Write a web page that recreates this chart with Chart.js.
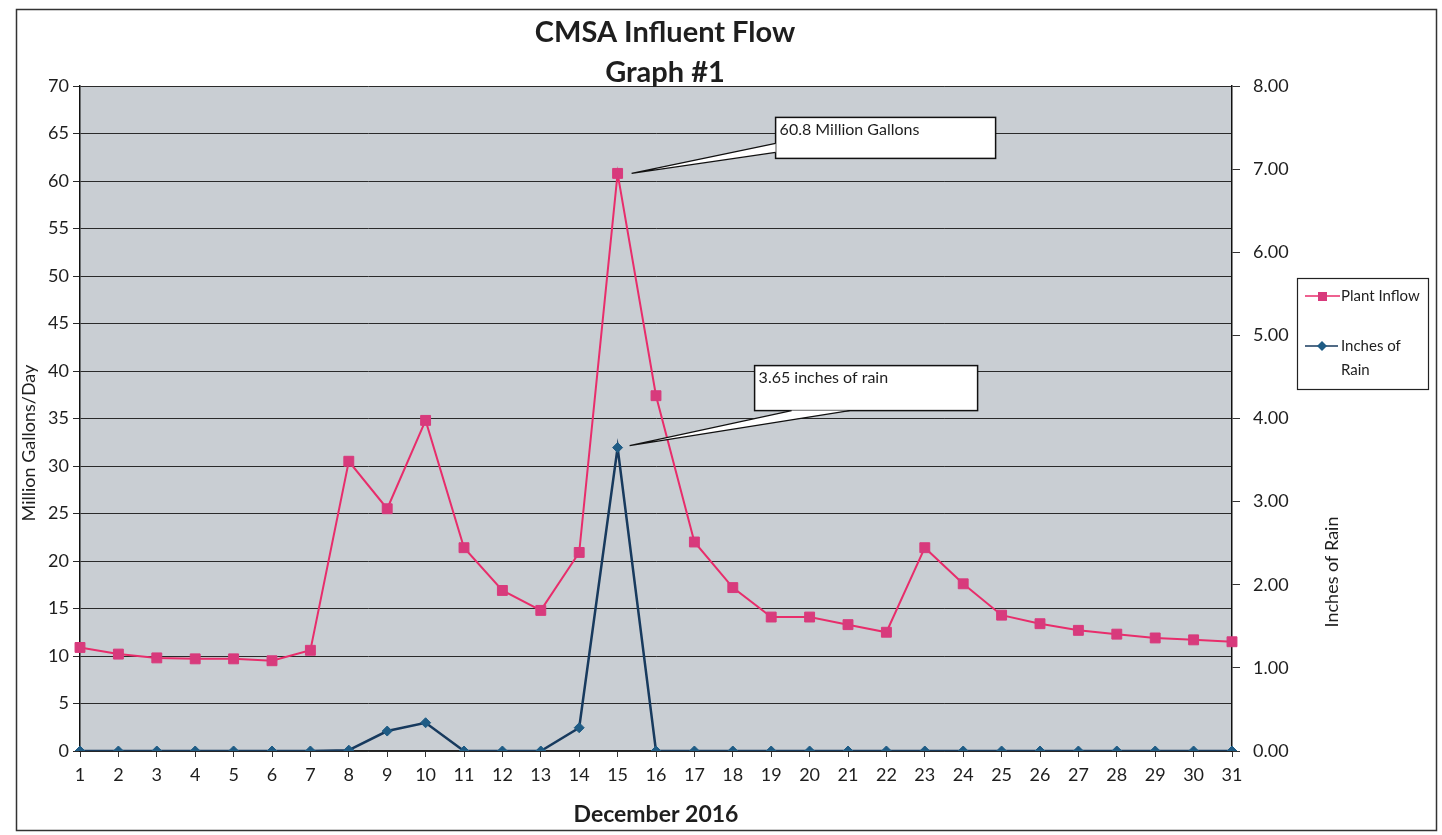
<!DOCTYPE html>
<html>
<head>
<meta charset="utf-8">
<title>CMSA Influent Flow</title>
<script src="https://cdn.jsdelivr.net/npm/chart.js@4"></script>
<style>
    html, body { margin: 0; padding: 0; background: #fff; }
    #wrap { width: 1442px; height: 835px; position: relative; }
</style>
</head>
<body>
<div id="wrap"><canvas id="flow"></canvas></div>
<script>
const days = ['1', '2', '3', '4', '5', '6', '7', '8', '9', '10', '11', '12', '13', '14', '15', '16',
    '17', '18', '19', '20', '21', '22', '23', '24', '25', '26', '27', '28', '29', '30', '31'];

// million gallons per day
const plantInflow = [10.9, 10.2, 9.8, 9.7, 9.7, 9.5, 10.6, 30.5, 25.5, 34.8, 21.4, 16.9, 14.8, 20.9, 60.8, 37.4,
    22.0, 17.2, 14.1, 14.1, 13.3, 12.5, 21.4, 17.6, 14.3, 13.4, 12.7, 12.3, 11.9, 11.7, 11.5];

// inches
const inchesOfRain = [0, 0, 0, 0, 0, 0, 0, 0.01, 0.24, 0.34, 0, 0, 0, 0.28, 3.65, 0,
    0, 0, 0, 0, 0, 0, 0, 0, 0, 0, 0, 0, 0, 0, 0];

const titleLines = ['CMSA Influent Flow', 'Graph #1'];
const flowCallout = '60.8 Million Gallons';
const rainCallout = '3.65 inches of rain';
const peakDay = 14; // index of Dec 15

const FONT = 'Lato, "Open Sans", "DejaVu Sans", sans-serif';
const INK = '#1e1e1e';
const PINK = '#e82d6b';
const NAVY = '#173a5e';

// page frame, grey plot area, titles
const framePlugin = {
    id: 'frame',
    beforeDraw(chart) {
        const { ctx, chartArea: a } = chart;
        ctx.save();
        ctx.fillStyle = '#fff';
        ctx.fillRect(0, 0, chart.width, chart.height);
        ctx.fillStyle = '#c9ced3';
        ctx.fillRect(a.left, a.top, a.width, a.height);
        ctx.strokeStyle = '#333';
        ctx.lineWidth = 1.5;
        ctx.strokeRect(16.5, 9.5, 1420, 821);
        ctx.restore();
    },
    afterDraw(chart) {
        const { ctx } = chart;
        ctx.save();
        ctx.fillStyle = INK;
        ctx.textAlign = 'center';
        ctx.textBaseline = 'middle';
        ctx.font = 'bold 29px ' + FONT;
        ctx.fillText(titleLines[0], 665, 33);
        ctx.fillText(titleLines[1], 665, 73);

        // both axis titles read bottom to top
        ctx.font = '18px ' + FONT;
        ctx.save();
        ctx.translate(29, 443);
        ctx.rotate(-Math.PI / 2);
        ctx.fillText('Million Gallons/Day', 0, 0);
        ctx.restore();

        ctx.translate(1332, 572);
        ctx.rotate(-Math.PI / 2);
        ctx.fillText('Inches of Rain', 0, 0);
        ctx.restore();
    }
};

// boxed legend on the right
const legendPlugin = {
    id: 'boxLegend',
    afterDraw(chart) {
        const { ctx } = chart;
        ctx.save();
        ctx.fillStyle = '#fff';
        ctx.fillRect(1297, 278, 131, 111);
        ctx.strokeStyle = '#222';
        ctx.lineWidth = 1.2;
        ctx.strokeRect(1297.5, 278.5, 131, 111);

        ctx.lineWidth = 1.5;
        ctx.strokeStyle = PINK;
        ctx.beginPath();
        ctx.moveTo(1305, 296);
        ctx.lineTo(1340, 296);
        ctx.stroke();
        ctx.fillStyle = '#d83a7c';
        ctx.fillRect(1318, 292, 9, 9);

        ctx.strokeStyle = NAVY;
        ctx.beginPath();
        ctx.moveTo(1305, 346);
        ctx.lineTo(1338, 346);
        ctx.stroke();
        ctx.fillStyle = '#1f5c85';
        ctx.beginPath();
        ctx.moveTo(1322, 341);
        ctx.lineTo(1327, 346);
        ctx.lineTo(1322, 351);
        ctx.lineTo(1317, 346);
        ctx.closePath();
        ctx.fill();

        ctx.fillStyle = INK;
        ctx.font = '15px ' + FONT;
        ctx.textBaseline = 'middle';
        ctx.fillText('Plant Inflow', 1341, 296);
        ctx.fillText('Inches of', 1341, 346);
        ctx.fillText('Rain', 1341, 370);
        ctx.restore();
    }
};

function drawCallout(ctx, box, wedge, tip, text) {
    ctx.save();
    ctx.fillStyle = '#fff';
    ctx.fillRect(box.x, box.y, box.w, box.h);
    ctx.strokeStyle = '#111';
    ctx.lineWidth = 1.5;
    ctx.strokeRect(box.x, box.y, box.w, box.h);

    // pointer: white wedge covering the border where it leaves the box
    ctx.beginPath();
    ctx.moveTo(wedge[0].x, wedge[0].y);
    ctx.lineTo(tip.x, tip.y);
    ctx.lineTo(wedge[1].x, wedge[1].y);
    ctx.closePath();
    ctx.fill();
    ctx.lineWidth = 1.2;
    ctx.beginPath();
    ctx.moveTo(wedge[0].x, wedge[0].y);
    ctx.lineTo(tip.x, tip.y);
    ctx.lineTo(wedge[1].x, wedge[1].y);
    ctx.stroke();

    ctx.fillStyle = INK;
    ctx.font = '16px ' + FONT;
    ctx.textBaseline = 'middle';
    ctx.fillText(text, box.x + 4, box.y + 12);
    ctx.restore();
}

const calloutPlugin = {
    id: 'callouts',
    afterDatasetsDraw(chart) {
        const { ctx } = chart;
        const p = chart.getDatasetMeta(0).data[peakDay];
        const r = chart.getDatasetMeta(1).data[peakDay];

        const b1 = { x: p.x + 158, y: p.y - 56, w: 220, h: 41 };
        drawCallout(ctx, b1,
            [{ x: b1.x, y: b1.y + 26 }, { x: b1.x, y: b1.y + 35 }],
            { x: p.x + 14, y: p.y }, flowCallout);

        const b2 = { x: r.x + 137, y: r.y - 82, w: 223, h: 45 };
        drawCallout(ctx, b2,
            [{ x: b2.x + 37, y: b2.y + b2.h }, { x: b2.x + 95, y: b2.y + b2.h }],
            { x: r.x + 12, y: r.y - 2 }, rainCallout);
    }
};

const tickFont = { family: FONT, size: 18 };

new Chart(document.getElementById('flow'), {
    type: 'line',
    data: {
        labels: days,
        datasets: [
            {
                label: 'Plant Inflow',
                data: plantInflow,
                yAxisID: 'y',
                borderColor: PINK,
                borderWidth: 2,
                pointStyle: 'rect',
                pointRadius: 7,
                pointBackgroundColor: '#d83a7c',
                pointBorderColor: '#d83a7c',
                pointBorderWidth: 1,
                tension: 0
            },
            {
                label: 'Inches of Rain',
                data: inchesOfRain,
                yAxisID: 'y1',
                borderColor: NAVY,
                borderWidth: 2.5,
                pointStyle: 'rectRot',
                pointRadius: 5,
                pointBackgroundColor: '#1f5c85',
                pointBorderColor: '#1f5c85',
                pointBorderWidth: 1,
                tension: 0
            }
        ]
    },
    options: {
        responsive: true,
        maintainAspectRatio: false,
        animation: false,
        layout: { padding: { top: 86, left: 0, right: 0, bottom: 0 } },
        plugins: {
            legend: { display: false },
            title: { display: false },
            tooltip: { enabled: false }
        },
        scales: {
            x: {
                type: 'category',
                offset: false,
                grid: { display: true, drawOnChartArea: false, drawTicks: true, tickLength: 6, color: '#333' },
                border: { display: true, color: '#222', width: 1.5 },
                ticks: { font: tickFont, color: INK, padding: 7, maxRotation: 0, autoSkip: false },
                title: {
                    display: true,
                    text: 'December 2016',
                    color: INK,
                    font: { family: FONT, size: 23, weight: 'bold' },
                    padding: { top: 0, bottom: 7 }
                },
                afterFit(scale) { scale.height = 84; }
            },
            y: {
                position: 'left',
                min: 0,
                max: 70,
                ticks: { stepSize: 5, font: tickFont, color: INK, padding: 4 },
                grid: { color: '#2a2a2a', lineWidth: 1, tickLength: 7 },
                border: { display: true, color: '#111', width: 1.5 },
                afterFit(scale) { scale.width = 80; }
            },
            y1: {
                position: 'right',
                min: 0,
                max: 8,
                ticks: {
                    stepSize: 1,
                    font: tickFont,
                    color: INK,
                    padding: 13,
                    callback: v => Number(v).toFixed(2)
                },
                grid: { drawOnChartArea: false, color: '#333', tickLength: 8 },
                border: { display: true, color: '#111', width: 1.5 },
                afterFit(scale) { scale.width = 210; }
            }
        }
    },
    plugins: [framePlugin, legendPlugin, calloutPlugin]
});
</script>
</body>
</html>
